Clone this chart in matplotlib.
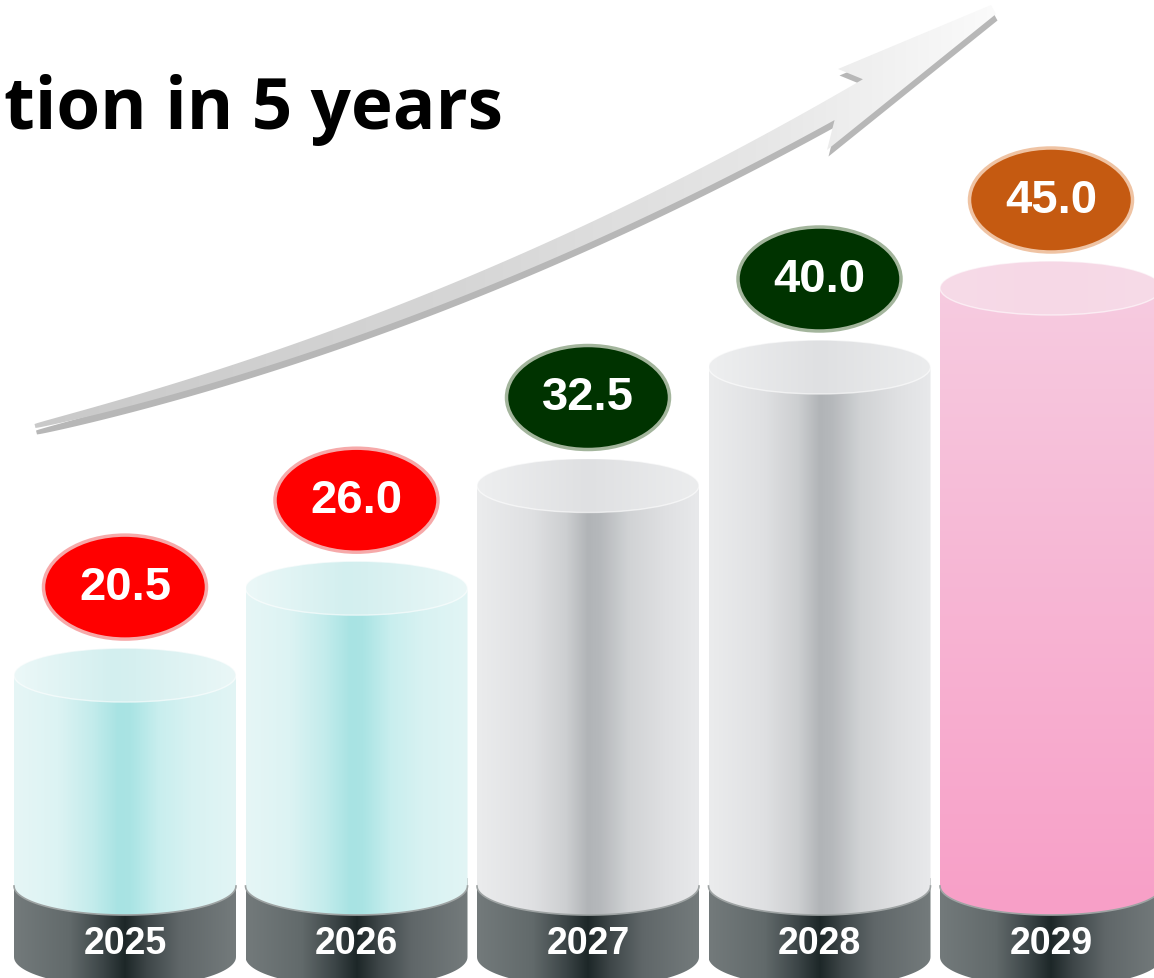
import matplotlib.pyplot as plt
import numpy as np
from matplotlib.colors import LinearSegmentedColormap
from matplotlib.patches import Ellipse, PathPatch, Polygon
from matplotlib.path import Path

years = ["2025", "2026", "2027", "2028", "2029"]
values = [20.5, 26.0, 32.5, 40.0, 45.0]
styles = ["teal", "teal", "grey", "grey", "pink"]
badge_colors = ["#ff0000", "#ff0000", "#003300", "#003300", "#c55a11"]
badge_edges = ["#f6a9a9", "#f6a9a9", "#a3b59c", "#a3b59c", "#efc3a3"]
title = "tion in 5 years"

W, H = 1154, 979
PX_X = 231.5      # pixels per category step
PX_Y = 15.8       # pixels per value unit
X0_PX = 125       # pixel centre of first category
ZERO_PX = 1000    # pixel row of value 0

body_grad = {
    "teal": [(0, "#e6f6f6"), (0.2, "#dcf3f3"), (0.35, "#c4ecec"), (0.47, "#a8e3e3"),
             (0.53, "#aae4e4"), (0.65, "#c8eeee"), (0.8, "#d8f2f2"), (1, "#e2f5f5")],
    "grey": [(0, "#ebeced"), (0.25, "#dfe0e2"), (0.4, "#cdcfd1"), (0.5, "#b1b4b7"),
             (0.56, "#b6b9bc"), (0.68, "#d0d2d4"), (0.85, "#dfe0e2"), (1, "#e8e9eb")],
}
cap_grad = {
    "teal": [(0, "#ecf8f8"), (0.45, "#d3efef"), (0.55, "#d6f0f0"), (1, "#eaf7f7")],
    "grey": [(0, "#eeeff0"), (0.5, "#dfe0e2"), (1, "#ecedee")],
    "pink": [(0, "#f7dbe8"), (0.5, "#f6d8e6"), (1, "#f7dbe8")],
}
base_grad = [(0, "#737a7b"), (0.25, "#626a6b"), (0.4, "#3c4547"), (0.5, "#1d2728"),
             (0.6, "#3e4648"), (0.75, "#606769"), (1, "#747b7c")]


def ramp(stops, n=256):
    cmap = LinearSegmentedColormap.from_list("g", stops)
    return cmap(np.linspace(0, 1, n))[:, :3]


def cylinder_path(xc, hw, y_bot, y_top, ry_bot, ry_top, flat_top=False):
    th1 = np.linspace(np.pi, 2 * np.pi, 60)
    th2 = np.linspace(0, np.pi, 60)
    pts = [(xc - hw, y_top), (xc - hw, y_bot)]
    pts += list(zip(xc + hw * np.cos(th1), y_bot + ry_bot * np.sin(th1)))
    pts += [(xc + hw, y_top)]
    if not flat_top:
        pts += list(zip(xc + hw * np.cos(th2), y_top + ry_top * np.sin(th2)))
    pts += [(xc - hw, y_top)]
    return Path(pts, closed=True)


def gradient_fill(ax, path, extent, rgb, vertical=False, z=2):
    patch = PathPatch(path, facecolor="none", edgecolor="none", transform=ax.transData)
    ax.add_patch(patch)
    img = rgb[:, None, :] if vertical else rgb[None, :, :]
    im = ax.imshow(img, extent=extent, aspect="auto", origin="lower",
                   interpolation="bicubic", zorder=z)
    im.set_clip_path(patch)
    return patch


fig = plt.figure(figsize=(W / 100, H / 100), dpi=100)

# decoration layer in pixel coordinates (title + arrow)
deco = fig.add_axes([0, 0, 1, 1])
deco.set_xlim(0, W)
deco.set_ylim(H, 0)
deco.axis("off")

deco.text(4, 129, title, fontsize=51, fontweight="bold", family="Open Sans",
          color="black", ha="left", va="baseline")

# curved arrow
P0, P1, P2 = np.array([35, 427.0]), np.array([470, 322.0]), np.array([885, 80.0])
t = np.linspace(0, 1, 300)[:, None]
c = (1 - t) ** 2 * P0 + 2 * t * (1 - t) * P1 + t ** 2 * P2
d = 2 * (1 - t) * (P1 - P0) + 2 * t * (P2 - P1)
d = d / np.linalg.norm(d, axis=1, keepdims=True)
n = np.column_stack([d[:, 1], -d[:, 0]])
wid = 4 + 18 * t[:, 0] ** 0.6
upper = c + n * wid[:, None] / 2
lower = c - n * wid[:, None] / 2
upper = upper[upper[:, 0] <= 863]
lower = lower[lower[:, 0] <= 836]
head = np.array([[838, 70], [991, 6], [996, 15], [827, 151]])
outline = np.vstack([upper, head, lower[::-1]])
side = outline + np.array([1.5, 6.5])
deco.add_patch(Polygon(side, closed=True, facecolor="#b7b7b7", edgecolor="none", zorder=1))
face = Polygon(outline, closed=True, facecolor="none", edgecolor="none", zorder=2)
deco.add_patch(face)
arrow_rgb = ramp([(0, "#c9c9c9"), (0.45, "#d6d6d6"), (0.75, "#e6e6e6"), (1, "#fbfbfb")])
im = deco.imshow(arrow_rgb[None, :, :], extent=[30, 1000, 430, 0], aspect="auto",
                 interpolation="bicubic", zorder=2)
im.set_clip_path(face)
deco.set_xlim(0, W)
deco.set_ylim(H, 0)

# bar layer in data coordinates
ax = fig.add_axes([0, 0, 1, 1])
ax.patch.set_alpha(0)
ax.axis("off")

hw = 222 / PX_X / 2
base_top = (ZERO_PX - 887) / PX_Y
base_bot = (ZERO_PX - 958) / PX_Y
ry_base = 30 / PX_Y
ry_body = 29 / PX_Y
ry_cap = 27 / PX_Y
badge_w = 163 / PX_X
badge_h = 104 / PX_Y
badge_gap = 88 / PX_Y

for i, (yr, v, st) in enumerate(zip(years, values, styles)):
    xc = i
    # dark base
    bp = cylinder_path(xc, hw, base_bot, base_top + 0.5, ry_base, 0, flat_top=True)
    gradient_fill(ax, bp, [xc - hw, xc + hw, base_bot - ry_base, base_top + 0.5],
                  ramp(base_grad), z=2)
    # body
    body = cylinder_path(xc, hw, base_top, v, ry_body, 0)
    if st == "pink":
        gradient_fill(ax, body, [xc - hw, xc + hw, base_top - ry_body, v],
                      ramp([(0, "#f89fc7"), (1, "#f6cbe0")]), vertical=True, z=3)
    else:
        gradient_fill(ax, body, [xc - hw, xc + hw, base_top - ry_body, v],
                      ramp(body_grad[st]), z=3)
    th = np.linspace(np.pi, 2 * np.pi, 80)
    ax.plot(xc + hw * np.cos(th), base_top + ry_body * np.sin(th), color="#9ea3a3",
            lw=1.2, zorder=3.5)
    # top cap
    cap = Ellipse((xc, v), 2 * hw, 2 * ry_cap, facecolor="none", edgecolor="none")
    ax.add_patch(cap)
    cim = ax.imshow(ramp(cap_grad[st])[None, :, :], extent=[xc - hw, xc + hw, v - ry_cap, v + ry_cap],
                    aspect="auto", interpolation="bicubic", zorder=4)
    cim.set_clip_path(cap)
    ax.add_patch(Ellipse((xc, v), 2 * hw, 2 * ry_cap, facecolor="none",
                         edgecolor="#ffffff", lw=1.0, alpha=0.6, zorder=4.5))
    # year label
    ax.text(xc, (ZERO_PX - 944) / PX_Y, yr, color="white", fontsize=27, fontweight="bold",
            family="Liberation Sans", ha="center", va="center", zorder=6)
    # value badge
    yc = v + badge_gap
    ax.add_patch(Ellipse((xc, yc), badge_w, badge_h, facecolor=badge_colors[i],
                         edgecolor=badge_edges[i], lw=2.5, zorder=5))
    ax.text(xc, yc, f"{v:.1f}", color="white", fontsize=34, fontweight="bold",
            family="Liberation Sans", ha="center", va="center", zorder=6)

ax.set_xlim(-X0_PX / PX_X, (W - X0_PX) / PX_X)
ax.set_ylim((ZERO_PX - H) / PX_Y, ZERO_PX / PX_Y)

fig.savefig("out.png", dpi=100, facecolor="white")
